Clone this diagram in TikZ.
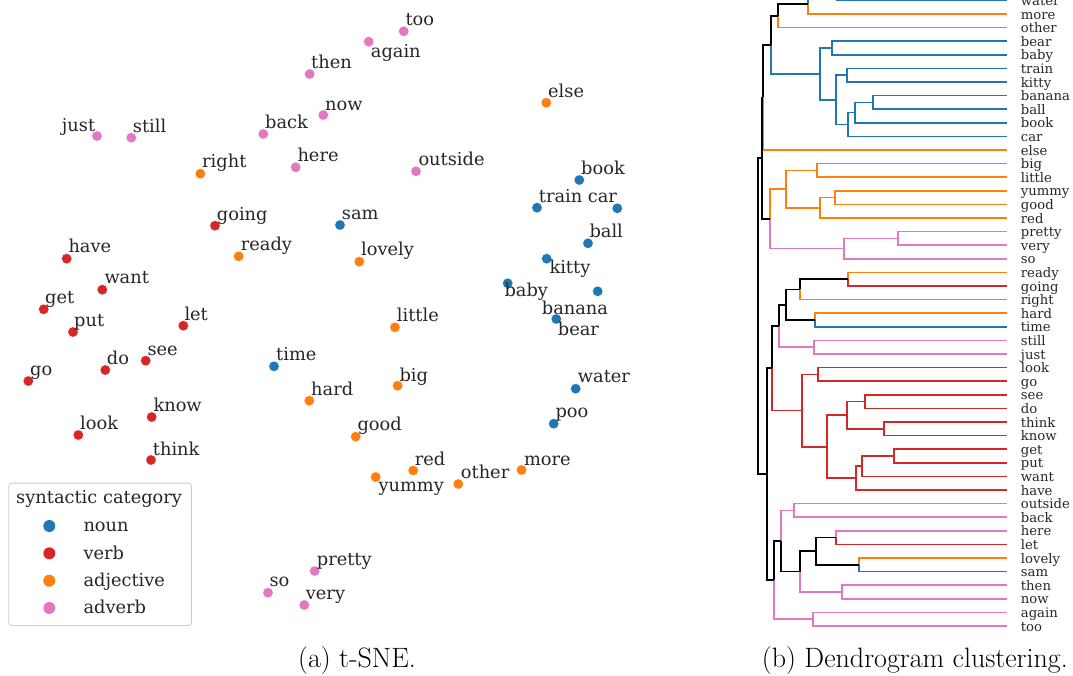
\documentclass[tikz,border=0pt]{standalone}
\usepackage{fontspec}
\newfontfamily\dvs{DejaVu Serif}
\definecolor{tb}{HTML}{1F77B4}
\definecolor{tr}{HTML}{D62728}
\definecolor{to}{HTML}{FF7F0E}
\definecolor{tp}{HTML}{E377C2}
\definecolor{txt}{HTML}{262626}
\tikzset{
  dot/.style={circle, inner sep=0pt, minimum size=10.5pt, fill=#1, draw=white, line width=0.4pt},
  lab/.style={anchor=base west, inner sep=0pt, text=txt, font=\dvs\fontsize{17.8}{20}\selectfont},
  leaflab/.style={anchor=base west, inner sep=0pt, text=txt, font=\dvs\fontsize{13.2}{14}\selectfont},
  dl/.style={line width=1.7pt, draw=#1},
  legbox/.style={draw=black!20, fill=white, rounded corners=3pt, line width=0.8pt},
  legdot/.style={circle, inner sep=0pt, minimum size=12pt, fill=#1},
  capt/.style={inner sep=0pt, text=black, font=\fontsize{28}{32}\selectfont},
}
\newcommand\tsne[6]{\node[dot=#4] (p-#1) at (#2,#3) {}; \node[lab] (t-#1) at (#5,#6) {#1};}
\newcommand\lf[2]{\coordinate (l-#1) at (1006.7,{0.4+13.6*#2}); \node[leaflab] (d-#1) at (1020.7,{5.4+13.6*#2}) {#1};}
\newcommand\mg[3]{\coordinate (m-#1) at (#2,{0.4+13.6*#3});}
\newcommand\br[3]{\draw[dl=#3] (#1) -| (#2);}
\begin{document}
\begin{tikzpicture}[x=1pt,y=-1pt]
\useasboundingbox (0,0) rectangle (1073,675);
\clip (0,0) rectangle (1073,675);
% ---------------- t-SNE ----------------
% adverbs
\tsne{too}{403.7}{31.3}{tp}{405.3}{25.7}
\tsne{again}{368.7}{41.7}{tp}{370.7}{57.3}
\tsne{then}{309.7}{74}{tp}{311}{68.3}
\tsne{now}{323.3}{115}{tp}{325}{110}
\tsne{just}{97}{136}{tp}{61.7}{131}
\tsne{still}{131.3}{137.7}{tp}{132.7}{132.7}
\tsne{back}{263.3}{134}{tp}{265}{128.3}
\tsne{here}{295.7}{167.3}{tp}{297.3}{161.7}
\tsne{outside}{416}{171.3}{tp}{418.3}{165.7}
\tsne{pretty}{314.7}{571}{tp}{316.7}{565}
\tsne{so}{268}{592.7}{tp}{269.3}{586.7}
\tsne{very}{304.3}{605}{tp}{305.7}{599.3}
% adjectives
\tsne{else}{546.3}{102.7}{to}{548}{97.3}
\tsne{right}{200.3}{173.7}{to}{202}{167.3}
\tsne{ready}{238.7}{256.3}{to}{240.7}{250}
\tsne{lovely}{359.3}{261.7}{to}{361}{255.7}
\tsne{little}{395}{327.3}{to}{396.7}{321.7}
\tsne{hard}{309.3}{400.7}{to}{311}{395}
\tsne{big}{397.7}{385.7}{to}{399.3}{381}
\tsne{good}{355.7}{436.7}{to}{357.3}{430}
\tsne{red}{413.2}{470.5}{to}{414.7}{465.5}
\tsne{yummy}{375.7}{477}{to}{378.3}{491.7}
\tsne{other}{458.3}{484}{to}{460.7}{478.3}
\tsne{more}{521.5}{470}{to}{523.8}{465}
% nouns
\tsne{book}{579.3}{180}{tb}{581}{174.3}
\tsne{train}{537}{207.7}{tb}{538.7}{202}
\tsne{car}{617.3}{208.3}{tb}{587.7}{202}
\tsne{sam}{340}{225}{tb}{341.7}{219}
\tsne{ball}{588}{243.3}{tb}{589.3}{237.3}
\tsne{kitty}{546.7}{258.7}{tb}{549.3}{273.3}
\tsne{baby}{507.7}{283.3}{tb}{504.3}{296.7}
\tsne{banana}{597.7}{291.3}{tb}{541.7}{314}
\tsne{bear}{556.3}{319}{tb}{557.7}{335}
\tsne{time}{274}{366.3}{tb}{276}{360.7}
\tsne{water}{575.7}{388.7}{tb}{577.7}{382.3}
\tsne{poo}{553.7}{423.7}{tb}{555.3}{417.7}
% verbs
\tsne{going}{215}{225.7}{tr}{216.7}{220}
\tsne{have}{66.7}{258.7}{tr}{68.3}{252.7}
\tsne{want}{102.3}{289.7}{tr}{104.3}{283.3}
\tsne{get}{43.7}{309.3}{tr}{45}{303.3}
\tsne{put}{73}{332}{tr}{74}{326.7}
\tsne{let}{183.3}{325.7}{tr}{184.3}{320}
\tsne{see}{145.7}{360.7}{tr}{147.3}{355}
\tsne{do}{105.3}{370}{tr}{106.7}{364.3}
\tsne{go}{28.3}{381}{tr}{30}{375}
\tsne{know}{151.7}{417}{tr}{153.3}{411}
\tsne{look}{78.3}{435}{tr}{80}{429}
\tsne{think}{151}{460}{tr}{152.7}{455}
% legend
\node[legbox, minimum width=182.7pt, minimum height=142.3pt, anchor=north west] (leg) at (8.3,482.7) {};
\node[lab] (legtitle) at (16,503.8) {syntactic category};
\node[legdot=tb] (ld1) at (49.3,526) {}; \node[lab] (lt1) at (83.3,531.7) {noun};
\node[legdot=tr] (ld2) at (49.3,553.3) {}; \node[lab] (lt2) at (83.3,559.1) {verb};
\node[legdot=to] (ld3) at (49.3,580.7) {}; \node[lab] (lt3) at (83.3,586.5) {adjective};
\node[legdot=tp] (ld4) at (49.3,608) {}; \node[lab] (lt4) at (83.3,613.8) {adverb};
% ---------------- dendrogram ----------------
\coordinate (l-poo) at (1006.7,{0.4-13.6});
\lf{water}{0}\lf{more}{1}\lf{other}{2}\lf{bear}{3}\lf{baby}{4}\lf{train}{5}
\lf{kitty}{6}\lf{banana}{7}\lf{ball}{8}\lf{book}{9}\lf{car}{10}\lf{else}{11}
\lf{big}{12}\lf{little}{13}\lf{yummy}{14}\lf{good}{15}\lf{red}{16}\lf{pretty}{17}
\lf{very}{18}\lf{so}{19}\lf{ready}{20}\lf{going}{21}\lf{right}{22}\lf{hard}{23}
\lf{time}{24}\lf{still}{25}\lf{just}{26}\lf{look}{27}\lf{go}{28}\lf{see}{29}
\lf{do}{30}\lf{think}{31}\lf{know}{32}\lf{get}{33}\lf{put}{34}\lf{want}{35}
\lf{have}{36}\lf{outside}{37}\lf{back}{38}\lf{here}{39}\lf{let}{40}\lf{lovely}{41}
\lf{sam}{42}\lf{then}{43}\lf{now}{44}\lf{again}{45}\lf{too}{46}
% merges
\mg{P}{836.7}{-0.5}\mg{Q}{808.3}{0.25}\mg{M2}{778.3}{1.125}
\mg{Nbb}{831.7}{3.5}\mg{Ntk}{846.7}{5.5}\mg{Nba}{872.7}{7.5}\mg{Nbo}{855}{8.25}
\mg{Nca}{848.3}{9.125}\mg{Nx}{836}{7.3125}\mg{N}{820}{5.40625}
\mg{M3}{770.7}{3.265625}\mg{M4}{763.3}{7.1328125}
\mg{Abl}{816.7}{12.5}\mg{Ayg}{835}{14.5}\mg{Ar}{820}{15.25}\mg{A}{786}{13.875}
\mg{Dpv}{898.3}{17.5}\mg{Ds}{844}{18.25}\mg{M5a}{770}{16.0625}\mg{M5}{761.7}{11.59765625}
\mg{Rrg}{848.3}{20.5}\mg{Rr}{800}{21.25}\mg{Rht}{815}{23.5}\mg{Rx}{786}{22.375}
\mg{Ssj}{814.3}{25.5}\mg{X1}{779.3}{23.9375}
\mg{Vlg}{818.3}{27.5}\mg{Vsd}{865}{29.5}\mg{Vtk}{884}{31.5}\mg{Vst}{846.7}{30.5}
\mg{Vgp}{894}{33.5}\mg{Vw}{861.7}{34.25}\mg{Vh}{856}{35.125}\mg{Vr}{827.3}{32.8125}
\mg{V}{801.7}{30.15625}\mg{X2}{771.7}{27.046875}
\mg{Bob}{794}{37.5}\mg{Bhl}{835.7}{39.5}\mg{Bls}{859.3}{41.5}\mg{Bhs}{816}{40.5}
\mg{Btn}{842.3}{43.5}\mg{By}{800}{42}\mg{Bo}{780.7}{39.75}\mg{Bat}{813.3}{45.5}
\mg{X3}{774}{42.625}\mg{X4}{766.7}{34.8359375}\mg{Root}{758.3}{23.216796875}
% branches
\br{l-poo}{m-P}{tb}\br{l-water}{m-P}{tb}
\br{m-P}{m-Q}{tb}\br{l-more}{m-Q}{to}
\br{m-Q}{m-M2}{black}\br{l-other}{m-M2}{to}
\br{l-bear}{m-Nbb}{tb}\br{l-baby}{m-Nbb}{tb}
\br{l-train}{m-Ntk}{tb}\br{l-kitty}{m-Ntk}{tb}
\br{l-banana}{m-Nba}{tb}\br{l-ball}{m-Nba}{tb}
\br{m-Nba}{m-Nbo}{tb}\br{l-book}{m-Nbo}{tb}
\br{m-Nbo}{m-Nca}{tb}\br{l-car}{m-Nca}{tb}
\br{m-Ntk}{m-Nx}{tb}\br{m-Nca}{m-Nx}{tb}
\br{m-Nbb}{m-N}{tb}\br{m-Nx}{m-N}{tb}
\br{m-M2}{m-M3}{black}\br{m-N}{m-M3}{tb}
\br{m-M3}{m-M4}{black}\br{l-else}{m-M4}{to}
\br{l-big}{m-Abl}{to}\br{l-little}{m-Abl}{to}
\br{l-yummy}{m-Ayg}{to}\br{l-good}{m-Ayg}{to}
\br{m-Ayg}{m-Ar}{to}\br{l-red}{m-Ar}{to}
\br{m-Abl}{m-A}{to}\br{m-Ar}{m-A}{to}
\br{l-pretty}{m-Dpv}{tp}\br{l-very}{m-Dpv}{tp}
\br{m-Dpv}{m-Ds}{tp}\br{l-so}{m-Ds}{tp}
\br{m-A}{m-M5a}{to}\br{m-Ds}{m-M5a}{tp}
\br{m-M4}{m-M5}{black}\br{m-M5a}{m-M5}{black}
\br{l-ready}{m-Rrg}{to}\br{l-going}{m-Rrg}{tr}
\br{m-Rrg}{m-Rr}{black}\br{l-right}{m-Rr}{to}
\br{l-hard}{m-Rht}{to}\br{l-time}{m-Rht}{tb}
\br{m-Rr}{m-Rx}{black}\br{m-Rht}{m-Rx}{black}
\br{l-still}{m-Ssj}{tp}\br{l-just}{m-Ssj}{tp}
\br{m-Rx}{m-X1}{black}\br{m-Ssj}{m-X1}{tp}
\br{l-look}{m-Vlg}{tr}\br{l-go}{m-Vlg}{tr}
\br{l-see}{m-Vsd}{tr}\br{l-do}{m-Vsd}{tr}
\br{l-think}{m-Vtk}{tr}\br{l-know}{m-Vtk}{tr}
\br{m-Vsd}{m-Vst}{tr}\br{m-Vtk}{m-Vst}{tr}
\br{l-get}{m-Vgp}{tr}\br{l-put}{m-Vgp}{tr}
\br{m-Vgp}{m-Vw}{tr}\br{l-want}{m-Vw}{tr}
\br{m-Vw}{m-Vh}{tr}\br{l-have}{m-Vh}{tr}
\br{m-Vst}{m-Vr}{tr}\br{m-Vh}{m-Vr}{tr}
\br{m-Vlg}{m-V}{tr}\br{m-Vr}{m-V}{tr}
\br{m-X1}{m-X2}{black}\br{m-V}{m-X2}{tr}
\br{l-outside}{m-Bob}{tp}\br{l-back}{m-Bob}{tp}
\br{l-here}{m-Bhl}{tp}\br{l-let}{m-Bhl}{tr}
\br{l-lovely}{m-Bls}{to}\br{l-sam}{m-Bls}{tb}
\br{m-Bhl}{m-Bhs}{black}\br{m-Bls}{m-Bhs}{black}
\br{l-then}{m-Btn}{tp}\br{l-now}{m-Btn}{tp}
\br{m-Bhs}{m-By}{black}\br{m-Btn}{m-By}{tp}
\br{m-Bob}{m-Bo}{tp}\br{m-By}{m-Bo}{black}
\br{l-again}{m-Bat}{tp}\br{l-too}{m-Bat}{tp}
\br{m-Bo}{m-X3}{black}\br{m-Bat}{m-X3}{tp}
\br{m-X2}{m-X4}{black}\br{m-X3}{m-X4}{black}
\br{m-M5}{m-Root}{black}\br{m-X4}{m-Root}{black}
% captions
\node[capt, anchor=base] (capa) at (357,667) {(a) t-SNE.};
\node[capt, anchor=base east] (capb) at (1068,667) {(b) Dendrogram clustering.};
\end{tikzpicture}
\end{document}
